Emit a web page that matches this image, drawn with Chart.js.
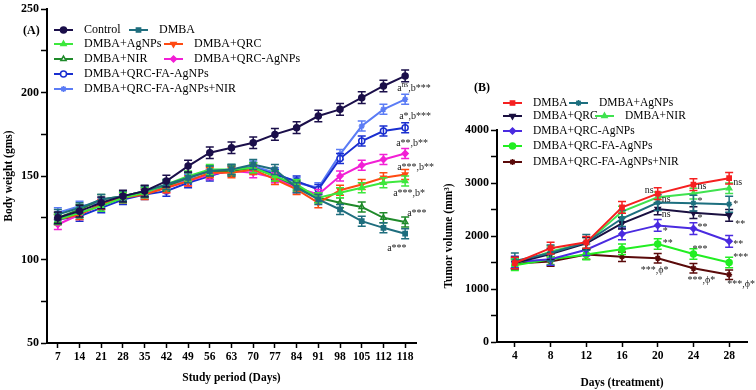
<!DOCTYPE html>
<html>
<head>
<meta charset="utf-8">
<script src="https://cdn.jsdelivr.net/npm/chart.js@4.4.0/dist/chart.umd.min.js"></script>
<style>
  html, body { margin: 0; padding: 0; background: #fff; }
  canvas { position: absolute; top: 0; }
  #bodyweight { left: 0; }
  #tumorvolume { left: 440px; }
</style>
</head>
<body>
<canvas id="bodyweight" width="440" height="390"></canvas>
<canvas id="tumorvolume" width="316" height="390"></canvas>
<script>
const serif = "'Liberation Serif', 'Times New Roman', serif"

// (A) body weight, gms
const daysA = ['7', '14', '21', '28', '35', '42', '49', '56', '63', '70', '77', '84', '91', '98', '105', '112', '118']
const controlA = [125, 129, 134, 138, 141, 147, 156, 164, 167, 170, 175, 179, 186, 190, 197, 204, 210]
const dmbaA = [127, 131, 136, 138, 141, 145, 149, 153, 154, 157, 154, 143, 136, 130, 123, 119, 115.5]
const agnpsA = [124, 128, 132, 137, 140, 145, 150, 154, 154, 155, 150, 145, 137, 140, 143, 146, 147]
const qrcA = [124, 127, 133, 137, 139, 143, 147, 152, 152, 154, 148, 142, 134, 141.5, 145, 149, 151]
const nirA = [125, 130, 136, 138, 141, 144, 149, 153, 153, 155, 150, 144, 137, 134, 131.5, 125, 122.5]
const qrcAgA = [121, 127, 133, 137, 140, 143, 147, 151, 153, 152, 149, 143, 139, 150, 156.5, 160, 163.5]
const faAgA = [124, 126, 131, 136, 139, 141, 146, 150, 154, 155, 151, 147, 142, 160.5, 171, 177, 179]
const faNirA = [128, 132, 134, 137, 140, 144, 148, 151, 153, 156, 152, 146, 143, 163, 180, 190, 196]
const errA = [3.5, 3, 3, 3, 3, 3, 3, 3]

// (B) tumor volume, mm3
const daysB = ['4', '8', '12', '16', '20', '24', '28']
const dmbaB = [1490, 1770, 1880, 2540, 2800, 2970, 3090]
const agnpsB = [1530, 1680, 1880, 2330, 2630, 2620, 2600]
const qrcB = [1490, 1660, 1860, 2240, 2510, 2440, 2390]
const nirB = [1470, 1710, 1870, 2460, 2730, 2800, 2900]
const qrcAgB = [1510, 1560, 1740, 2040, 2200, 2140, 1900]
const faAgB = [1450, 1560, 1650, 1750, 1850, 1660, 1500]
const faNirB = [1480, 1520, 1650, 1610, 1580, 1390, 1270]
const errB = [110, 150, 110, 100, 110, 100, 90]

function line (label, data, color, style, open, rot) {
  return {
    label,
    data,
    borderColor: color,
    backgroundColor: color,
    pointBackgroundColor: open ? '#fff' : color,
    pointBorderColor: color,
    pointStyle: style,
    pointRotation: rot || 0,
    pointRadius: 3,
    pointBorderWidth: 1.5,
    borderWidth: 2,
    tension: 0
  }
}

function drawRich (ctx, text, x, y, size) {
  text.split(/(\^\{[^}]*\})/).forEach(part => {
    if (!part) return
    const sup = part.startsWith('^{')
    const s = sup ? part.slice(2, -1) : part
    ctx.font = (sup ? size * 0.75 : size) + 'px ' + serif
    ctx.fillText(s, x, sup ? y - size * 0.35 : y)
    x += ctx.measureText(s).width
  })
}

function errorBars (errs) {
  return {
    id: 'errorBars',
    afterDatasetDraw (chart, args) {
      const ctx = chart.ctx
      const y = chart.scales.y
      const ds = chart.data.datasets[args.index]
      ctx.save()
      ctx.strokeStyle = ds.borderColor
      ctx.lineWidth = 1.5
      args.meta.data.forEach((pt, j) => {
        const top = y.getPixelForValue(ds.data[j] + errs[args.index])
        const bot = y.getPixelForValue(ds.data[j] - errs[args.index])
        ctx.beginPath()
        ctx.moveTo(pt.x, top); ctx.lineTo(pt.x, bot)
        ctx.moveTo(pt.x - 4, top); ctx.lineTo(pt.x + 4, top)
        ctx.moveTo(pt.x - 4, bot); ctx.lineTo(pt.x + 4, bot)
        ctx.stroke()
      })
      ctx.restore()
    }
  }
}

function notes (list, size) {
  return {
    id: 'notes',
    afterDraw (chart) {
      const ctx = chart.ctx
      ctx.save()
      ctx.fillStyle = '#222'
      ctx.textBaseline = 'middle'
      list.forEach(([i, j, text, dx, dy]) => {
        const pt = chart.getDatasetMeta(i).data[j]
        drawRich(ctx, text, pt.x + dx, pt.y + dy, size)
      })
      ctx.restore()
    }
  }
}

function legendBox (items, panel, size) {
  return {
    id: 'legendBox',
    afterDraw (chart) {
      const ctx = chart.ctx
      ctx.save()
      ctx.textBaseline = 'middle'
      ctx.fillStyle = '#000'
      ctx.font = 'bold 12px ' + serif
      ctx.fillText(panel[0], panel[1], panel[2])
      ctx.font = size + 'px ' + serif
      items.forEach(([i, x, y]) => {
        const ds = chart.data.datasets[i]
        ctx.strokeStyle = ds.borderColor
        ctx.lineWidth = 2
        ctx.beginPath(); ctx.moveTo(x, y); ctx.lineTo(x + 19, y); ctx.stroke()
        ctx.fillStyle = ds.pointBackgroundColor
        ctx.lineWidth = 1.5
        Chart.helpers.drawPoint(ctx, { pointStyle: ds.pointStyle, rotation: ds.pointRotation, radius: 3, borderWidth: 1.5 }, x + 9.5, y)
        ctx.fillStyle = '#000'
        ctx.fillText(ds.label, x + 30, y)
      })
      ctx.restore()
    }
  }
}

function axes (labels, yMin, yMax, step, xTitle, yTitle, yWidth, xHeight, titlePad) {
  const tickFont = { family: serif, size: 12, weight: 'bold' }
  return {
    x: {
      type: 'category',
      labels,
      offset: true,
      grid: { display: true, drawOnChartArea: false, offset: false, tickLength: 5, tickWidth: 1.5, tickColor: '#000' },
      border: { color: '#000', width: 2 },
      ticks: { color: '#000', font: { family: serif, size: 11.5, weight: 'bold' }, maxRotation: 0, autoSkip: false, padding: 2 },
      title: { display: true, text: xTitle, color: '#000', font: { family: serif, size: 11.5, weight: 'bold' }, padding: { top: 0, bottom: titlePad } },
      afterFit: s => { s.height = xHeight }
    },
    y: {
      min: yMin,
      max: yMax,
      grid: { display: true, drawOnChartArea: false, tickLength: 6, tickWidth: 1.5, tickColor: '#000' },
      border: { color: '#000', width: 2 },
      ticks: { stepSize: step, color: '#000', font: tickFont, padding: 2, callback: v => (v % (step * 2) === 0 ? v : '') },
      title: { display: true, text: yTitle, color: '#000', font: { family: serif, size: 11.5, weight: 'bold' }, padding: { top: 2, bottom: 0 } },
      afterFit: s => { s.width = yWidth }
    }
  }
}

new Chart(document.getElementById('bodyweight'), {
  type: 'line',
  data: {
    labels: daysA,
    datasets: [
      line('Control', controlA, '#1b0f4a', 'circle'),
      line('DMBA', dmbaA, '#1f6e7e', 'rect'),
      line('DMBA+AgNPs', agnpsA, '#3de83d', 'triangle'),
      line('DMBA+QRC', qrcA, '#ff4a12', 'triangle', false, 180),
      line('DMBA+NIR', nirA, '#1f8a2a', 'triangle', true),
      line('DMBA+QRC-AgNPs', qrcAgA, '#f21fd5', 'rectRot'),
      line('DMBA+QRC-FA-AgNPs', faAgA, '#1a2fd0', 'circle', true),
      line('DMBA+QRC-FA-AgNPs+NIR', faNirA, '#5b7cf5', 'star')
    ]
  },
  options: {
    responsive: false,
    animation: false,
    layout: { padding: { left: 0, right: 24, top: 7, bottom: 0 } },
    plugins: { legend: { display: false }, tooltip: { enabled: false } },
    scales: axes(daysA, 50, 250, 25, 'Study period (Days)', 'Body weight (gms)', 47, 47, 5)
  },
  plugins: [
    errorBars(errA),
    notes([
      [7, 16, 'a^{ns},b***', -8, -11],
      [6, 16, 'a*,b***', -6, -11],
      [5, 16, 'a**,b**', -9, -10],
      [3, 16, 'a***,b**', -8, -7],
      [2, 16, 'a***,b*', -12, 12],
      [4, 16, 'a***', 2, -9],
      [1, 16, 'a***', -18, 15]
    ], 10),
    legendBox([
      [0, 54, 30], [1, 129, 30],
      [2, 54, 44], [3, 164, 44],
      [4, 54, 59], [5, 164, 59],
      [6, 54, 74],
      [7, 54, 89]
    ], ['(A)', 23, 31], 12)
  ]
})

new Chart(document.getElementById('tumorvolume'), {
  type: 'line',
  data: {
    labels: daysB,
    datasets: [
      line('DMBA', dmbaB, '#f52020', 'rect'),
      line('DMBA+AgNPs', agnpsB, '#1d6f7f', 'star'),
      line('DMBA+QRC', qrcB, '#1a1040', 'triangle', false, 180),
      line('DMBA+NIR', nirB, '#3fe24f', 'triangle'),
      line('DMBA+QRC-AgNPs', qrcAgB, '#4a2be0', 'rectRot'),
      line('DMBA+QRC-FA-AgNPs', faAgB, '#22ee22', 'circle'),
      line('DMBA+QRC-FA-AgNPs+NIR', faNirB, '#5a0a0a', 'star')
    ]
  },
  options: {
    responsive: false,
    animation: false,
    layout: { padding: { left: 0, right: 9, top: 130, bottom: 0 } },
    plugins: { legend: { display: false }, tooltip: { enabled: false } },
    scales: axes(daysB, 0, 4000, 500, 'Days (treatment)', 'Tumor volume (mm³)', 57, 48, 0)
  },
  plugins: [
    errorBars(errB),
    notes([
      [0, 4, 'ns', -13, -3],
      [3, 4, 'ns', 4, 2],
      [2, 4, 'ns', 4, 5],
      [4, 4, '*', 5, 6],
      [5, 4, '**', 5, -1],
      [6, 4, '***,ϕ*', -17, 12],
      [0, 5, 'ns', 4, 2],
      [1, 5, '*', 4, -2],
      [2, 5, '*', 4, 6],
      [4, 5, '**', 4, -1],
      [5, 5, '***', -1, -5],
      [6, 5, '***,ϕ*', -6, 12],
      [0, 6, 'ns', 4, 4],
      [1, 6, '*', 4, 0],
      [2, 6, '**', 6, 9],
      [4, 6, '**', 4, 3],
      [5, 6, '***', 4, -5],
      [6, 6, '***,ϕ*', -2, 10]
    ], 10),
    legendBox([
      [0, 63, 103], [1, 129, 103],
      [2, 63, 116], [3, 155, 116],
      [4, 63, 131],
      [5, 63, 146],
      [6, 63, 162]
    ], ['(B)', 34, 88], 11.5)
  ]
})
</script>
</body>
</html>
